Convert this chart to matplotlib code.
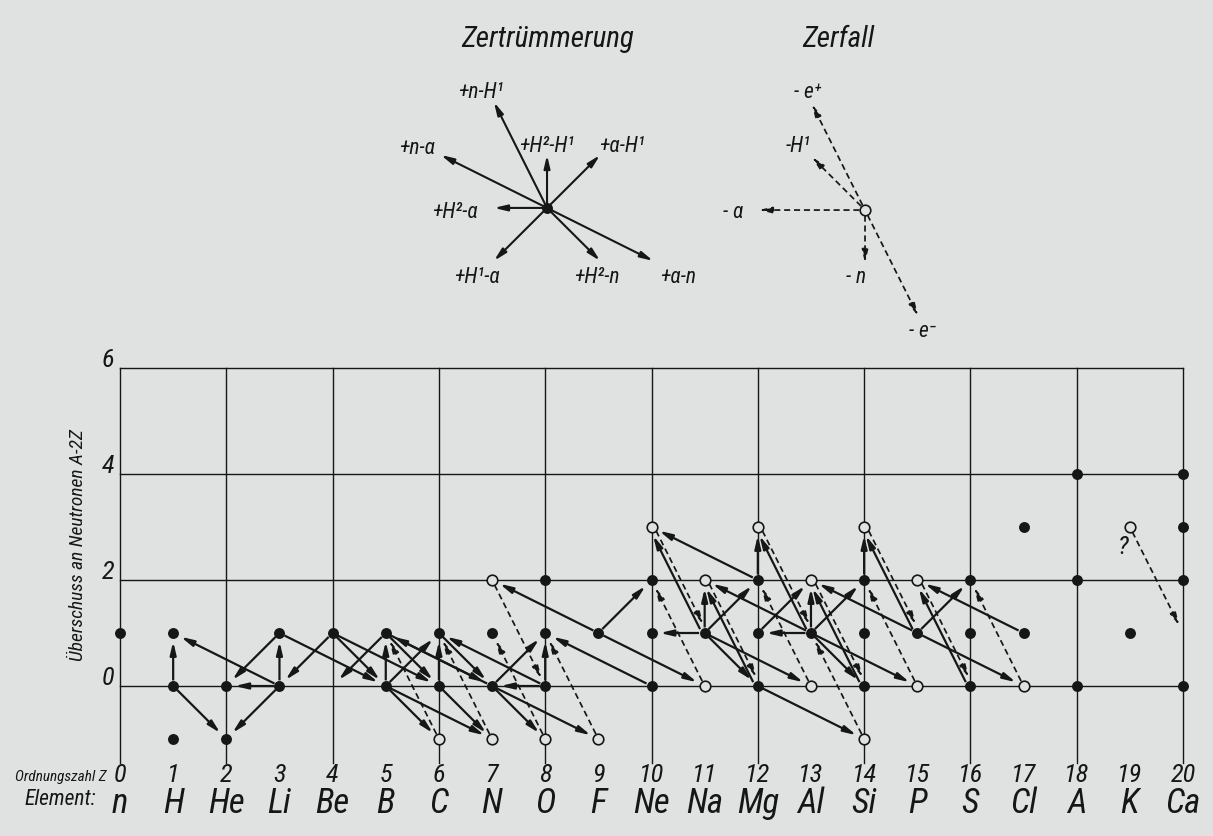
import numpy as np
import matplotlib.pyplot as plt
from matplotlib.patches import FancyArrowPatch

# Ordnungszahl Z and element symbols along the bottom
z_values = list(range(21))
elements = ['n', 'H', 'He', 'Li', 'Be', 'B', 'C', 'N', 'O', 'F', 'Ne',
            'Na', 'Mg', 'Al', 'Si', 'P', 'S', 'Cl', 'A', 'K', 'Ca']
excess_ticks = [0, 2, 4, 6]

# nuclei as (Z, A-2Z)
stable = [(0, 1), (1, 1), (1, 0), (1, -1), (2, 0), (2, -1), (3, 1), (3, 0),
          (4, 1), (5, 1), (5, 0), (6, 1), (6, 0), (7, 1), (7, 0),
          (8, 2), (8, 1), (8, 0), (9, 1), (10, 2), (10, 1), (10, 0),
          (11, 1), (12, 2), (12, 1), (12, 0), (13, 1), (14, 2), (14, 1),
          (14, 0), (15, 1), (16, 2), (16, 1), (16, 0), (17, 3), (17, 1),
          (18, 4), (18, 2), (18, 0), (19, 1), (20, 4), (20, 3), (20, 2),
          (20, 0)]
radioactive = [(6, -1), (7, 2), (7, -1), (8, -1), (9, -1), (10, 3), (11, 2),
               (11, 0), (12, 3), (13, 2), (13, 0), (14, 3), (14, -1),
               (15, 2), (15, 0), (17, 0), (19, 3)]

# Zertruemmerung (solid arrows): from -> to
reactions = [((1, 0), (1, 1)), ((3, 0), (1, 1)), ((1, 0), (2, -1)),
             ((3, 0), (2, -1)), ((3, 0), (2, 0)), ((3, 1), (2, 0)),
             ((3, 0), (3, 1)), ((4, 1), (3, 0)), ((3, 1), (5, 0)),
             ((4, 1), (5, 0)), ((4, 1), (6, 0)), ((5, 1), (4, 0)),
             ((5, 0), (5, 1)), ((5, 0), (6, 1)), ((5, 1), (6, 0)),
             ((5, 0), (6, -1)), ((5, 0), (7, -1)), ((5, 1), (7, 0)),
             ((7, 0), (5, 1)), ((6, 0), (6, 1)), ((8, 0), (6, 1)),
             ((6, 1), (7, 0)), ((6, 0), (7, -1)), ((7, 0), (8, -1)),
             ((7, 0), (9, -1)), ((8, 0), (8, 1)), ((8, 0), (7, 0)),
             ((7, 0), (8, 1)), ((10, 0), (8, 1)), ((9, 1), (10, 2)),
             ((9, 1), (7, 2)), ((9, 1), (11, 0)), ((11, 1), (10, 1)),
             ((11, 1), (11, 2)), ((11, 1), (12, 2)), ((11, 1), (12, 0)),
             ((11, 1), (10, 3)), ((12, 2), (10, 3)), ((12, 0), (11, 2)),
             ((13, 1), (11, 2)), ((12, 2), (12, 3)), ((13, 1), (12, 3)),
             ((13, 1), (13, 2)), ((13, 1), (12, 1)), ((13, 1), (14, 2)),
             ((12, 1), (13, 2)), ((14, 0), (13, 2)), ((13, 1), (14, 0)),
             ((12, 0), (14, -1)), ((13, 1), (15, 0)), ((11, 1), (13, 0)),
             ((14, 2), (14, 3)), ((15, 1), (14, 3)), ((15, 1), (13, 2)),
             ((15, 1), (16, 2)), ((16, 0), (15, 2)), ((17, 1), (15, 2)),
             ((15, 1), (17, 0))]

# Zerfall (dashed arrows): from -> to
decays = [((6, -1), (5, 1)), ((7, -1), (6, 1)), ((7, 2), (8, 0)),
          ((8, -1), (7, 1)), ((9, -1), (8, 1)), ((11, 0), (10, 2)),
          ((10, 3), (11, 1)), ((11, 2), (12, 0)), ((12, 3), (13, 1)),
          ((13, 0), (12, 2)), ((13, 2), (14, 0)), ((14, -1), (13, 1)),
          ((14, 3), (15, 1)), ((15, 0), (14, 2)), ((15, 2), (16, 0)),
          ((17, 0), (16, 2)), ((19, 3), (20, 1))]

# key diagrams: shift in (Z, A-2Z)
reaction_labels = ['+n-H¹', '+n-α', '+H²-H¹', '+α-H¹', '+H²-α', '+H¹-α',
                   '+H²-n', '+α-n']
reaction_shift = [(-1, 2), (-2, 1), (0, 1), (1, 1), (-1, 0), (-1, -1),
                  (1, -1), (2, -1)]
decay_labels = ['- e⁺', '-H¹', '- α', '- n', '- e⁻']
decay_shift = [(-1, 2), (-1, 1), (-2, 0), (0, -1), (1, -2)]

bg = '#dfe2e0'
ink = '#161616'
narrow = ['Roboto Condensed', 'Liberation Sans Narrow', 'Liberation Sans',
          'DejaVu Sans']
txt = dict(style='italic', family=narrow, stretch='condensed', color=ink,
           ha='center', va='center')

fig = plt.figure(figsize=(12.13, 8.36), dpi=100)
fig.patch.set_facecolor(bg)
ax = fig.add_axes([0, 0, 1, 1])
ax.set_facecolor(bg)
ax.set_xlim(-2.258, 20.564)
ax.set_ylim(-2.83, 12.943)
ax.axis('off')


def arrow(p0, p1, dashed=False, shrinkA=4, shrinkB=6, lw=1.6):
    ls = (0, (3.5, 2.2)) if dashed else '-'
    a = FancyArrowPatch(p0, p1, arrowstyle='-|>,head_length=0.55,head_width=0.13',
                        mutation_scale=14, lw=lw if not dashed else 1.25,
                        color=ink, shrinkA=shrinkA, shrinkB=shrinkB,
                        linestyle=ls, zorder=2, capstyle='butt')
    ax.add_patch(a)


def shifted(p0, p1, d):
    v = np.array(p1, float) - np.array(p0, float)
    perp = np.array([-v[1], v[0]]) / np.hypot(*v) * d
    return tuple(np.array(p0) + perp), tuple(np.array(p1) + perp)


# grid
for z in z_values[::2]:
    ax.plot([z, z], [-1.45, 6], color=ink, lw=1.0, zorder=1)
for y in excess_ticks:
    ax.plot([0, 20], [y, y], color=ink, lw=1.0, zorder=1)
    ax.text(-0.22, y + 0.16, str(y), fontsize=19, **txt)

# arrows
decay_set = set(decays)
for a, b in reactions:
    if (b, a) in decay_set:
        a, b = shifted(a, b, 0.045)
    arrow(a, b)
reaction_set = set(reactions)
for a, b in decays:
    if (b, a) in reaction_set:
        a, b = shifted(a, b, 0.045)
    arrow(a, b, dashed=True)

sz, sn = zip(*stable)
rz, rn = zip(*radioactive)
ax.scatter(sz, sn, s=62, color=ink, zorder=4, linewidths=0)
ax.scatter(rz, rn, s=58, facecolor=bg, edgecolor=ink, linewidths=1.2, zorder=4)
ax.text(18.88, 2.62, '?', fontsize=19, **txt)

# axis labels
for z, el in zip(z_values, elements):
    ax.text(z, -1.68, str(z), fontsize=19, **txt)
    ax.text(z, -2.22, el, fontsize=25, **txt)
ax.text(-0.26, -1.72, 'Ordnungszahl Z', fontsize=11,
        **{**txt, 'ha': 'right'})
ax.text(-0.45, -2.15, 'Element:', fontsize=15.5, **{**txt, 'ha': 'right'})
ax.text(-0.79, 2.66, 'Überschuss an Neutronen A-2Z', rotation=90,
        fontsize=14, **txt)

# key: Zertruemmerung
c1 = (8.034, 9.02)
ax.text(8.05, 12.2, 'Zertrümmerung', fontsize=21, **txt)
label_pos1 = [(6.79, 11.2), (5.59, 10.15), (8.03, 10.17), (9.44, 10.17),
              (6.30, 8.94), (6.72, 7.70), (8.97, 7.70), (10.50, 7.70)]
for lab, (dz, dn), pos in zip(reaction_labels, reaction_shift, label_pos1):
    arrow(c1, (c1[0] + dz, c1[1] + dn), shrinkA=3, shrinkB=0, lw=1.5)
    ax.text(pos[0], pos[1], lab, fontsize=15.5, **txt)
ax.scatter([c1[0]], [c1[1]], s=62, color=ink, zorder=4, linewidths=0)

# key: Zerfall
c2 = (14.017, 8.98)
ax.text(13.51, 12.2, 'Zerfall', fontsize=21, **txt)
label_pos2 = [(12.94, 11.2), (12.76, 10.17), (11.53, 8.94), (13.85, 7.70),
              (15.09, 6.68)]
for lab, (dz, dn), pos in zip(decay_labels, decay_shift, label_pos2):
    arrow(c2, (c2[0] + dz, c2[1] + dn), dashed=True, shrinkA=4, shrinkB=0)
    ax.text(pos[0], pos[1], lab, fontsize=15.5, **txt)
ax.scatter([c2[0]], [c2[1]], s=58, facecolor=bg, edgecolor=ink,
           linewidths=1.2, zorder=4)

fig.savefig('out.png', dpi=100, facecolor=bg)
